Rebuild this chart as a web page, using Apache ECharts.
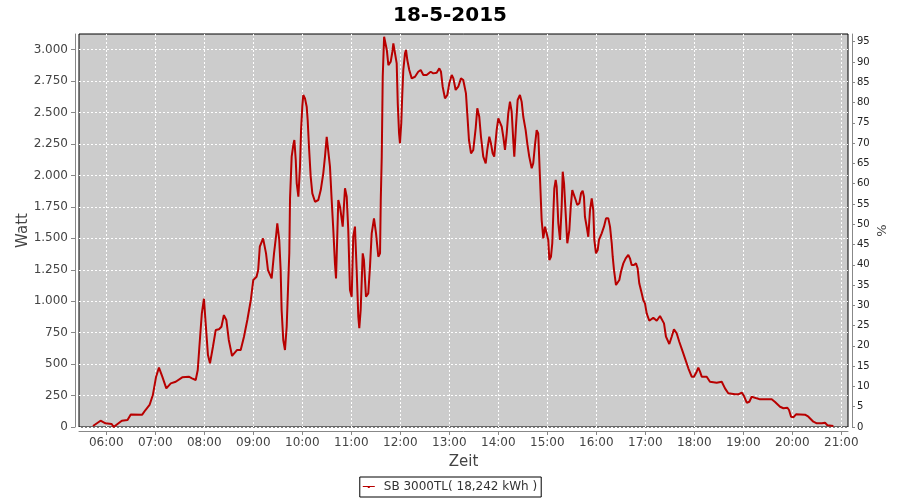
<!DOCTYPE html>
<html><head><meta charset="utf-8">
<script src="https://cdn.jsdelivr.net/npm/echarts@6/dist/echarts.min.js"></script>
<style>html,body{margin:0;padding:0;background:#fff}#c{width:900px;height:500px}</style>
</head><body><div id="c"></div>
<script>
const chartTitle = '18-5-2015';
const seriesName = 'SB 3000TL( 18,242 kWh )';
const yName = 'Watt';
const y2Name = '%';
const xName = 'Zeit';

// minutes since midnight
const minutes = [
343.7,353,359,366.6,369,371,379,386,390,404,408,413,417,421,424.5,428.6,433.5,439,445,453,461,465,469.5,472,474,477,479.6,481.7,484.5,487,490.6,494,498,501,504,507,510,514,520,524.6,528.6,532.7,537,540,544,546,548,552,555.6,558,562.5,565.4,567.8,569.4,571.8,573.5,574.7,576.7,578.8,580.9,582.9,584.1,585,587,589,590.3,592,593.2,595.2,597.2,598.5,600,601.2,603.3,605.4,606.6,608.2,610.3,612.3,615.6,619.6,622.6,625.7,627.8,629.9,631.8,633.9,636,638,640,641.3,642.1,644.1,646.2,649.5,652.3,654.4,656.3,658.4,660.5,662.4,664.5,666.6,668.6,669.8,671.5,674,675.5,678,680.8,682.9,685,687.8,690.3,693.1,695.2,696.1,697.3,698.5,700.2,701.8,703.5,705.4,708.3,710.3,711.5,713.6,715.6,716.9,718.5,719.6,721.2,722.4,723.7,725.8,727,728.6,731,734,738,742,745,748.2,752.3,757.2,760.4,764.6,767.8,769.8,771.9,774.7,777.6,780,783,785,787.8,791,794.3,797.1,800.4,802,804.1,806.6,809.4,812.3,814.3,816.7,818.8,821.6,824.6,826.5,829,831,833.1,835,838,840,842,844.2,846.1,848.2,850.3,852.2,854.3,856.4,858.3,859.6,861.6,863.7,866.5,868.6,870.6,873.5,875.5,877.9,880.9,882.8,884.9,887,888.9,891,893.1,895.1,897.2,899.3,901.2,902.5,904.5,906.1,907.4,908.6,910.3,911.5,913.5,915.6,917.6,918.9,920.5,922.5,924.5,927,928.7,930.6,932.7,934.8,936.7,939.2,941.3,943.3,944.9,946.1,948.2,950.2,952.3,954.4,956.3,957.6,959.6,961.7,963.3,966.6,969.4,971.9,974.7,976.8,978.9,980.1,981.7,984.1,986.2,988.2,990.2,993.1,996,999.2,1001.2,1003.3,1006.1,1008.6,1010.6,1012.6,1015.6,1017.5,1019.6,1021.7,1024.9,1029.8,1034,1038,1040.4,1042.9,1045.3,1049.4,1052.3,1055.1,1058.4,1061.6,1065.8,1068.6,1072.7,1076.8,1079.6,1082.9,1084.9,1087,1089.1,1095.2,1099.2,1107.4,1113.6,1117.6,1121.6,1129.9,1134,1138.1,1140.9,1144.2,1147.4,1150.3,1152.3,1156.5,1160.5,1174.8,1178.9,1185,1189.1,1194,1196,1198.5,1201.3,1204.6,1215.6,1219.7,1225.8,1230,1236.1,1240.1,1243,1250.3
];
const watts = [
8,50,29,24,0,2,50,55,100,98,135,175,254,400,472,400,307,347,360,395,400,387,374,453,638,904,1020,825,572,506,638,771,777,797,890,851,692,565,612,612,718,851,1010,1169,1195,1248,1434,1500,1381,1248,1182,1381,1513,1620,1487,1248,930,692,612,797,1169,1381,1818,2150,2242,2282,2123,1938,1831,2070,2361,2547,2640,2613,2547,2441,2229,1990,1858,1791,1805,1884,2017,2150,2308,2322,2070,1805,1566,1301,1182,1354,1805,1752,1593,1898,1831,1566,1089,1036,1513,1593,1248,877,785,930,1381,1328,1036,1063,1275,1540,1659,1540,1354,1381,1805,2150,2785,3103,3117,2998,2878,2905,2984,3051,3037,2892,2574,2335,2256,2415,2640,2839,2971,2998,2918,2839,2772,2785,2825,2839,2799,2799,2825,2812,2817,2852,2825,2706,2613,2640,2733,2799,2772,2680,2706,2772,2759,2653,2494,2282,2176,2203,2375,2534,2467,2308,2150,2097,2203,2308,2256,2176,2150,2361,2454,2454,2388,2308,2203,2335,2494,2587,2507,2282,2150,2388,2600,2640,2587,2467,2361,2256,2150,2057,2097,2242,2361,2335,1990,1646,1500,1593,1580,1487,1328,1354,1461,1699,1898,1964,1911,1620,1487,1752,2030,1938,1699,1461,1566,1752,1884,1898,1805,1765,1779,1858,1879,1831,1672,1593,1513,1725,1818,1725,1487,1381,1407,1487,1540,1593,1659,1659,1593,1461,1354,1248,1129,1129,1169,1235,1301,1341,1368,1341,1288,1288,1301,1262,1143,1063,1010,983,904,845,869,845,883,890,824,718,660,718,777,745,678,599,546,467,400,400,440,472,440,400,400,360,352,360,307,268,260,260,273,246,193,201,241,249,228,220,220,199,161,149,153,135,82,77,101,98,82,42,29,29,34,14,8
];

const hourTicks = [360,420,480,540,600,660,720,780,840,900,960,1020,1080,1140,1200,1260];
const wattTicks = [0,250,500,750,1000,1250,1500,1750,2000,2250,2500,2750,3000];
const percentTicks = [0,5,10,15,20,25,30,35,40,45,50,55,60,65,70,75,80,85,90,95];

const FONT = 'DejaVu Sans';
const pad2 = n => (n < 10 ? '0' : '') + n;
const fmtTime = v => pad2(Math.floor(v / 60)) + ':' + pad2(Math.round(v % 60));
const fmtWatt = v => v >= 1000 ? Math.floor(v / 1000) + '.' + String(v % 1000).padStart(3, '0') : String(v);

const data = minutes.map((m, i) => [m, watts[i]]);

const chart = echarts.init(document.getElementById('c'), null, {renderer: 'canvas'});
chart.setOption({
  animation: false,
  backgroundColor: '#fff',
  textStyle: {fontFamily: FONT},
  title: {
    text: chartTitle, left: 'center', top: 1,
    textStyle: {fontFamily: FONT, fontSize: 20, fontWeight: 'bold', color: '#000'}
  },
  legend: {
    left: 'center', top: 477,
    padding: [4, 4, 4, 3],
    borderColor: '#000', borderWidth: 1,
    itemWidth: 12, itemHeight: 8, itemGap: 5,
    textStyle: {fontFamily: FONT, fontSize: 12, color: '#333', padding: [0, 0, 0, 4]},
    data: [{name: seriesName, icon: 'path://M0,4 L12,4 L12,5 L7,5 L7,6 L5,6 L5,5 L0,5 Z'}]
  },
  grid: {
    left: 79, right: 52, top: 34, bottom: 73,
    show: true, backgroundColor: '#CCCCCC', borderColor: '#000', borderWidth: 1,
    containLabel: false, outerBoundsMode: 'none'
  },
  xAxis: {
    type: 'value', min: 326.6, max: 1268.2, offset: 4,
    name: xName, nameLocation: 'middle', nameGap: 24, nameMoveOverlap: false,
    nameTextStyle: {fontFamily: FONT, fontSize: 15, color: '#444'},
    axisLine: {onZero: false, lineStyle: {color: '#888', width: 1}},
    axisTick: {customValues: hourTicks, length: 4, lineStyle: {color: '#888'}},
    axisLabel: {customValues: hourTicks, formatter: fmtTime, color: '#444', fontSize: 12, margin: 6, fontFamily: FONT},
    splitLine: {show: true, lineStyle: {color: '#fff', type: [2, 2], width: 1}}
  },
  yAxis: [{
    type: 'value', min: 0, max: 3125, offset: 4, position: 'left',
    name: yName, nameLocation: 'middle', nameGap: 44, nameMoveOverlap: false,
    nameTextStyle: {fontFamily: FONT, fontSize: 15, color: '#444'},
    axisLine: {show: true, onZero: false, lineStyle: {color: '#888', width: 1}},
    axisTick: {show: true, customValues: wattTicks, length: 4, lineStyle: {color: '#888'}},
    axisLabel: {customValues: wattTicks, formatter: fmtWatt, color: '#444', fontSize: 12, margin: 7, fontFamily: FONT},
    splitLine: {show: true, lineStyle: {color: '#fff', type: [2, 2], width: 1}}
  }, {
    type: 'value', min: 0, max: 96.9, offset: 4, position: 'right',
    name: y2Name, nameLocation: 'middle', nameGap: 24, nameMoveOverlap: false,
    nameTextStyle: {fontFamily: FONT, fontSize: 13, color: '#444'},
    axisLine: {show: true, onZero: false, lineStyle: {color: '#888', width: 1}},
    axisTick: {show: true, customValues: percentTicks, length: 3, lineStyle: {color: '#888'}},
    axisLabel: {customValues: percentTicks, color: '#222', fontSize: 10, margin: 5, fontFamily: FONT},
    splitLine: {show: false}
  }],
  series: [{
    name: seriesName, type: 'line', data: data,
    showSymbol: false, symbol: 'none',
    lineStyle: {color: '#B80000', width: 2},
    itemStyle: {color: '#B80000'}
  }]
});
</script>
</body></html>
